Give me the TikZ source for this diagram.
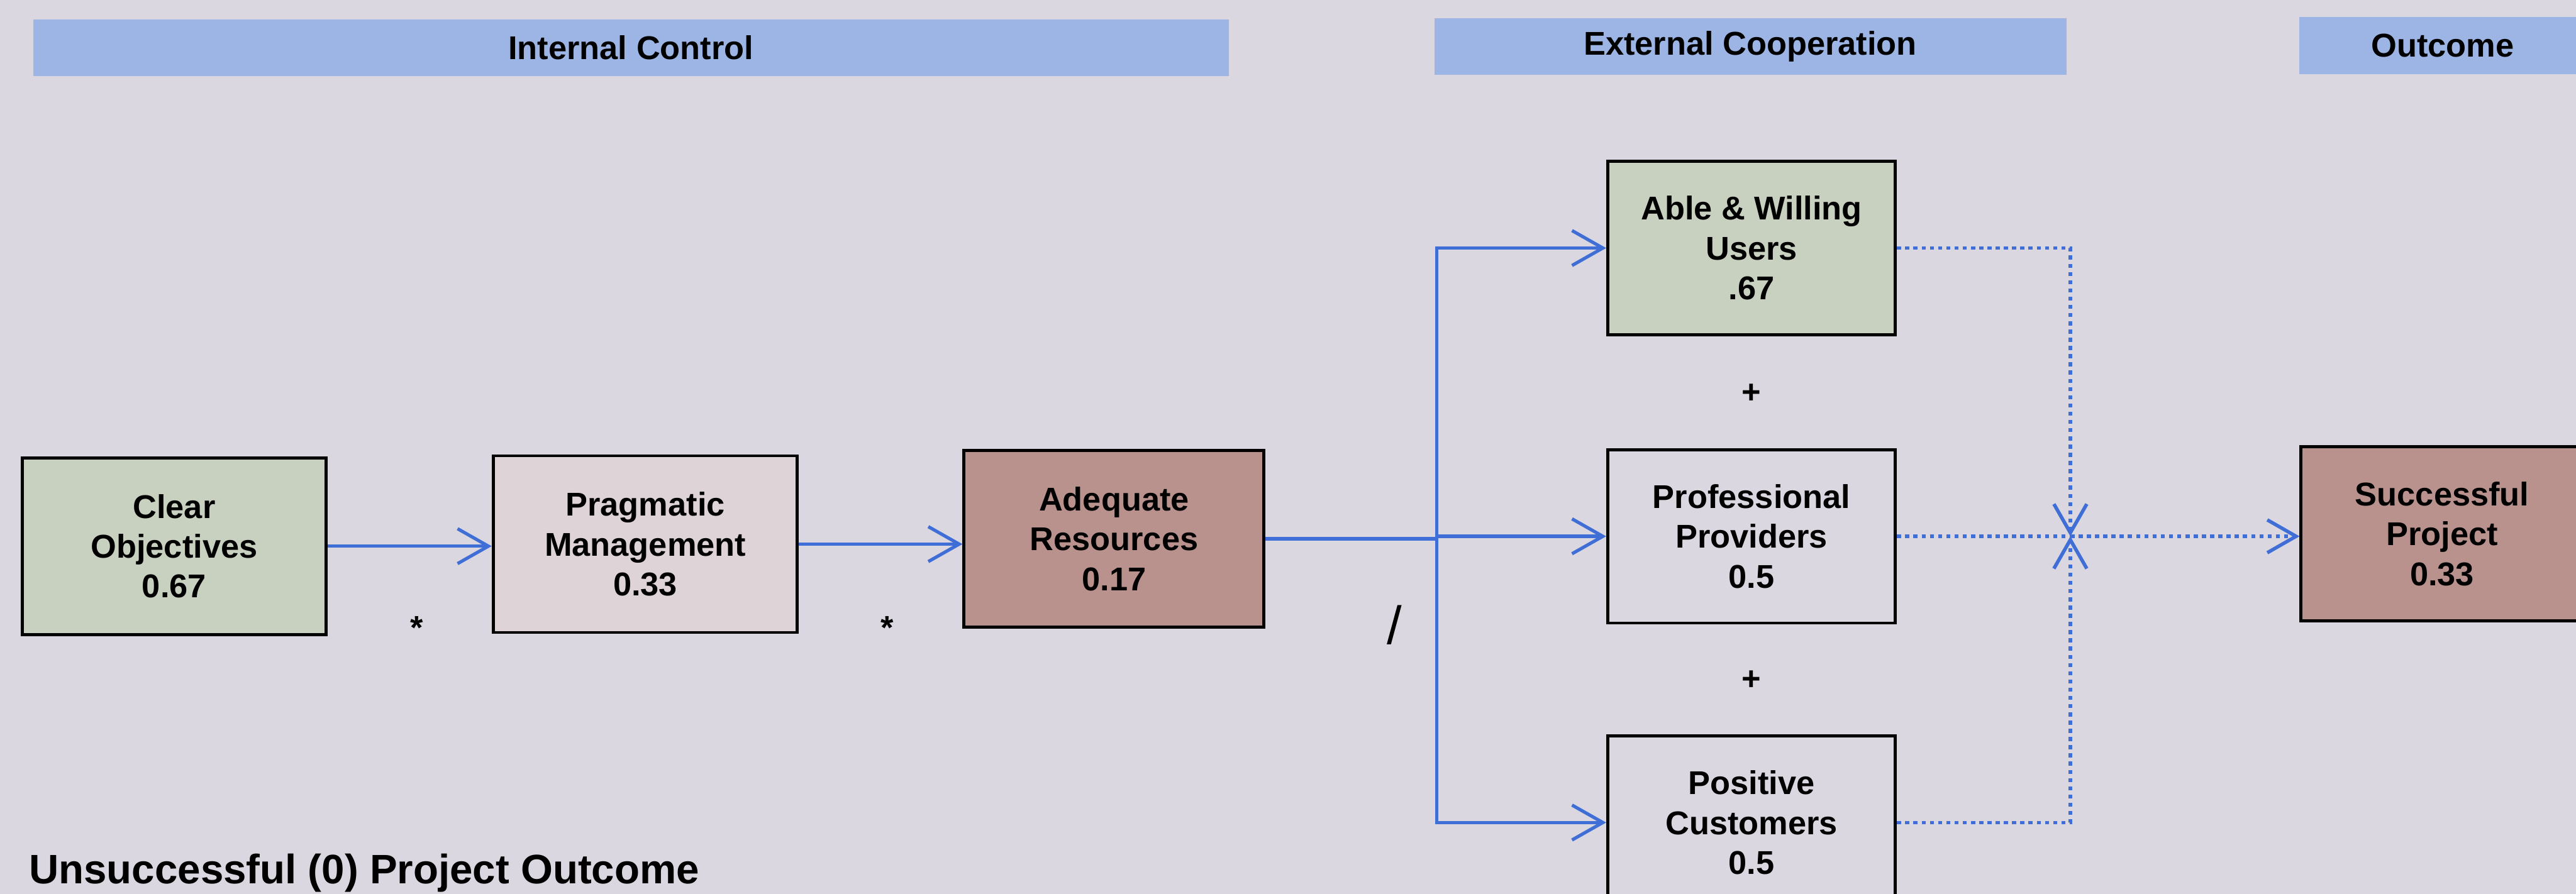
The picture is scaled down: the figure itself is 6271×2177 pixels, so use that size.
\documentclass[tikz,border=0pt]{standalone}
\usepackage{fontspec}
\setmainfont{Liberation Sans}
\usetikzlibrary{arrows.meta}

\definecolor{paper}{RGB}{219,215,224}
\definecolor{bandblue}{RGB}{157,181,228}
\definecolor{sage}{RGB}{200,208,192}
\definecolor{blush}{RGB}{222,211,215}
\definecolor{rose}{RGB}{186,146,141}
\definecolor{linkblue}{RGB}{62,110,214}

\newcommand\labelfont{\fontsize{22.8}{27.6}\selectfont\bfseries}
\newcommand\notefont{\fontsize{28.5}{34}\selectfont\bfseries}

\begin{document}
\begin{tikzpicture}[x=0.01cm, y=-0.01cm,
  band/.style={fill=bandblue, inner sep=0pt, font=\labelfont, minimum height=1.38cm},
  factor/.style={draw=black, line width=0.075cm, align=center, inner sep=0pt,
    font=\labelfont, minimum width=7.4cm, minimum height=4.3cm},
  sidefactor/.style={factor, minimum width=7.0cm, minimum height=4.22cm},
  operator/.style={inner sep=0pt, font=\labelfont},
  flow/.style={draw=linkblue, line width=0.08cm,
    -{Straight Barb[length=0.75cm, width=0.85cm]}},
  link/.style={draw=linkblue, line width=0.08cm},
  dotlink/.style={draw=linkblue, line width=0.085cm, dash pattern=on 0.1cm off 0.1cm},
  dotflow/.style={dotlink, -{Straight Barb[length=0.7cm, width=0.8cm]}}
]
% canvas
\fill[paper] (0,0) rectangle (6271,2177);
\useasboundingbox (0,0) rectangle (6271,2177);

% column headings
\node[band, minimum width=29.08cm] (hinternal) at (1536,116) {Internal Control};
\node[band, minimum width=15.38cm] (hexternal) at (4261,113) {External Cooperation};
\node[band, minimum width=6.96cm]  (houtcome)  at (5946,111) {Outcome};

% internal chain
\node[factor, fill=sage]  (clear) at (424,1330)  {Clear\\Objectives\\0.67};
\node[factor, fill=blush] (prag)  at (1571,1325) {Pragmatic\\Management\\0.33};
\node[factor, fill=rose, minimum width=7.3cm] (adeq) at (2712,1312) {Adequate\\Resources\\0.17};

% external partners
\node[sidefactor, fill=sage] (able) at (4264,604)  {Able \& Willing\\Users\\.67};
\node[sidefactor]            (prof) at (4264,1306) {Professional\\Providers\\0.5};
\node[sidefactor]            (posc) at (4264,2003) {Positive\\Customers\\0.5};

% outcome
\node[factor, fill=rose, minimum width=6.86cm, minimum height=4.23cm] (succ) at (5945,1300) {Successful\\Project\\0.33};

% operators between factors
\node[operator, anchor=base] (mul1) at (1014,1556) {*};
\node[operator, anchor=base] (mul2) at (2159,1556) {*};
\node[inner sep=0pt, font=\fontsize{37}{40}\selectfont] (divide) at (3395,1522) {/};
\node[operator] (plus1) at (4264,958)  {+};
\node[operator] (plus2) at (4264,1656) {+};

% caption
\node[anchor=base west, inner sep=0pt, font=\notefont] (note) at (70,2152) {Unsuccessful (0) Project Outcome};

% junctions
\coordinate (split) at (3498,1306);
\coordinate (join)  at (5040,1306);

% solid flow
\draw[flow] (clear.east) -- (clear.east -| prag.west);
\draw[flow] (prag.east) -- (prag.east -| adeq.west);
\draw[link] (adeq.east) -- (adeq.east -| split) -- (split);
\draw[flow] (split) -- (prof.west);
\draw[flow] (split) |- (able.west);
\draw[flow] (split) |- (posc.west);

% dotted flow into the outcome
\draw[dotflow] (able.east) -| (join);
\draw[dotflow] (posc.east) -| (join);
\draw[dotlink] (prof.east) -- (join);
\draw[dotflow] (join) -- (join -| succ.west);
\end{tikzpicture}
\end{document}
